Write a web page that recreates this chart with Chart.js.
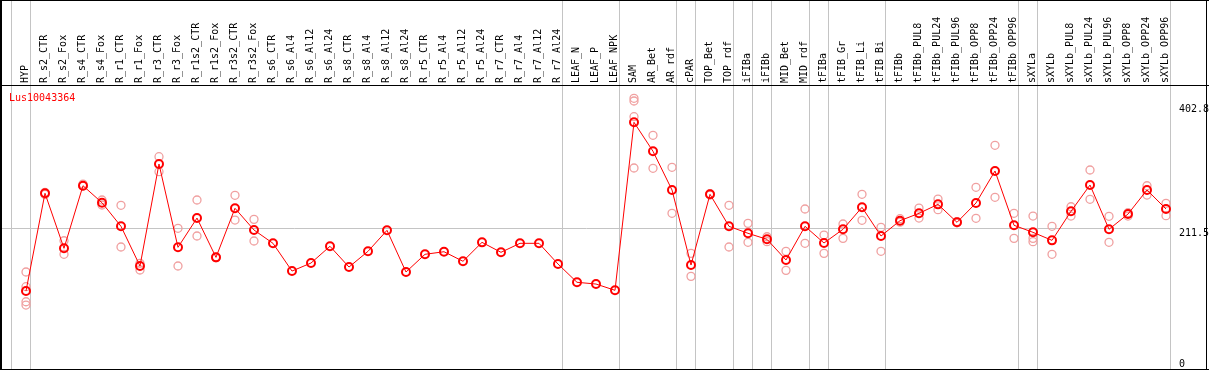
<!DOCTYPE html>
<html>
<head>
<meta charset="utf-8">
<script src="https://cdn.jsdelivr.net/npm/chart.js@4.4.0/dist/chart.umd.min.js"></script>
<style>
  html, body { margin: 0; padding: 0; background: #fff; }
  canvas { display: block; }
</style>
</head>
<body>
<canvas id="chart" width="1209" height="370"></canvas>
<script>
const geneName = 'Lus10043364';

const categories = [
    'HYP', 'R_s2_CTR', 'R_s2_Fox', 'R_s4_CTR', 'R_s4_Fox', 'R_r1_CTR', 'R_r1_Fox', 'R_r3_CTR', 'R_r3_Fox',
    'R_r1s2_CTR', 'R_r1s2_Fox', 'R_r3s2_CTR', 'R_r3s2_Fox', 'R_s6_CTR', 'R_s6_Al4', 'R_s6_Al12', 'R_s6_Al24',
    'R_s8_CTR', 'R_s8_Al4', 'R_s8_Al12', 'R_s8_Al24', 'R_r5_CTR', 'R_r5_Al4', 'R_r5_Al12', 'R_r5_Al24',
    'R_r7_CTR', 'R_r7_Al4', 'R_r7_Al12', 'R_r7_Al24', 'LEAF_N', 'LEAF_P', 'LEAF_NPK', 'SAM', 'AR_Bet', 'AR_rdf',
    'cPAR', 'TOP_Bet', 'TOP_rdf', 'iFIBa', 'iFIBb', 'MID_Bet', 'MID_rdf', 'tFIBa', 'tFIB_Gr', 'tFIB_Li', 'tFIB_Bi',
    'tFIBb', 'tFIBb_PUL8', 'tFIBb_PUL24', 'tFIBb_PUL96', 'tFIBb_OPP8', 'tFIBb_OPP24', 'tFIBb_OPP96',
    'sXYLa', 'sXYLb', 'sXYLb_PUL8', 'sXYLb_PUL24', 'sXYLb_PUL96', 'sXYLb_OPP8', 'sXYLb_OPP24', 'sXYLb_OPP96'
];

// mean expression per sample
const meanValues = [
    114.5, 265.7, 180.6, 277.4, 251.1, 214.6, 153.2, 311.0, 182.1, 227.4, 166.6, 242.5, 208.9,
    188.3, 145.4, 157.8, 183.7, 151.6, 175.9, 208.4, 143.9, 171.3, 175.3, 160.5, 189.8,
    174.4, 188.3, 188.3, 156.3, 128.0, 125.3, 115.6, 375.5, 330.7, 270.8, 154.7, 264.1, 214.6,
    203.8, 194.5, 162.5, 214.6, 188.8, 210.0, 244.0, 199.6, 223.3, 234.7, 248.6, 220.8, 250.7,
    300.2, 216.2, 205.3, 192.9, 237.8, 278.5, 210.0, 233.6, 270.8, 241.4
];

// individual replicates per sample (same order as categories)
const replicateValues = [
    [143.9, 121.2, 97.9, 92.8], [267, 264], [192.3, 171.3], [280, 277], [255.3, 247.6],
    [247.1, 182.6], [157.4, 147.0], [322.3, 299.1], [211.5, 153.2], [255.3, 199.6], [167, 166],
    [262.6, 224.3], [225.4, 191.9],
    [], [], [], [], [], [], [], [], [], [], [], [], [], [], [], [],
    [], [], [],
    [412.7, 408.5, 384.2, 304.8], [355.4, 304.4], [305.9, 234.7], [172.8, 137.2], [265, 263],
    [247.1, 182.6], [219.2, 189.9], [198.5, 190.8], [175.9, 146.5], [241.4, 188.3], [201.1, 172.8],
    [218.2, 196.0], [264.1, 223.9], [213.1, 175.9], [226.4, 221], [242.9, 227.4], [256.8, 240.3],
    [222, 220], [275.0, 227.0], [339.9, 259.5], [234.7, 196.0], [230.5, 196.0, 190.8],
    [214.6, 171.3], [244.9, 230.5], [301.7, 256.4], [230.1, 189.9], [235.7, 230.5],
    [277.4, 263.0], [250.2, 231.0]
];

// last sample index of each group, a separator follows it
const groupEnds = [-1, 0, 28, 31, 34, 35, 37, 38, 39, 41, 42, 45, 52, 53, 60];

const yTickValues = [0, 211.5, 402.8];
const yGridValue = 211.5;

const monoFont = '10px "DejaVu Sans Mono"';

const meanPoints = meanValues.map((v, i) => ({ x: i, y: v }));
const repPoints = [];
replicateValues.forEach((reps, i) => {
    reps.forEach(v => repPoints.push({ x: i, y: v }));
});

const framePlugin = {
    id: 'frame',
    beforeDraw(chart) {
        const ctx = chart.ctx;
        ctx.save();
        ctx.fillStyle = '#fff';
        ctx.fillRect(0, 0, chart.width, chart.height);
        ctx.restore();
    },
    beforeDatasetsDraw(chart) {
        const { ctx, scales: { x } } = chart;
        ctx.save();
        ctx.strokeStyle = '#c4c4c4';
        ctx.lineWidth = 1;
        groupEnds.forEach(b => {
            const px = Math.floor(x.getPixelForValue(b + 0.25)) + 0.5;
            ctx.beginPath();
            ctx.moveTo(px, 0);
            ctx.lineTo(px, chart.height);
            ctx.stroke();
        });
        ctx.restore();
    },
    afterDraw(chart) {
        const { ctx, chartArea, scales: { y } } = chart;
        ctx.save();
        ctx.font = monoFont;
        ctx.textAlign = 'left';
        ctx.textBaseline = 'alphabetic';

        // right hand value labels
        ctx.fillStyle = '#000';
        yTickValues.forEach(v => {
            const py = Math.min(y.getPixelForValue(v) + 7.5, chartArea.bottom - 1);
            ctx.fillText(String(v), chartArea.right + 8, py);
        });

        // gene name
        ctx.fillStyle = '#ff0000';
        ctx.fillText(geneName, 9, chartArea.top + 15);

        // black frame
        ctx.fillStyle = '#000';
        ctx.fillRect(0, 0, chart.width, 1);
        ctx.fillRect(0, chartArea.top - 1, chart.width, 1);
        ctx.fillRect(0, 0, 2, chart.height);
        ctx.fillRect(chart.width - 3, 0, 1, chart.height);
        ctx.fillRect(0, chart.height - 1, chart.width, 1);
        ctx.restore();
    }
};

new Chart(document.getElementById('chart'), {
    type: 'line',
    data: {
        datasets: [
            {
                label: geneName,
                data: meanPoints,
                borderColor: '#ff0000',
                borderWidth: 1,
                tension: 0,
                pointRadius: 4,
                pointBorderWidth: 2,
                pointBorderColor: '#ff0000',
                pointBackgroundColor: 'rgba(0,0,0,0)',
                order: 0
            },
            {
                type: 'scatter',
                label: 'replicates',
                data: repPoints,
                showLine: false,
                pointRadius: 4,
                pointBorderWidth: 1.3,
                pointBorderColor: '#f0a0a0',
                pointBackgroundColor: 'rgba(0,0,0,0)',
                order: 1
            }
        ]
    },
    options: {
        responsive: false,
        animation: false,
        devicePixelRatio: 1,
        layout: { autoPadding: false, padding: { left: 2, right: 0, top: 0, bottom: 2 } },
        plugins: {
            legend: { display: false },
            tooltip: { enabled: false }
        },
        scales: {
            x: {
                type: 'linear',
                position: 'top',
                min: -1.263,
                max: 60.263,
                afterFit: s => {
                    s.height = 86;
                    s.paddingLeft = 0;
                    s.paddingRight = 0;
                },
                grid: { display: false, drawTicks: false },
                border: { display: false },
                ticks: {
                    stepSize: 1,
                    autoSkip: false,
                    maxTicksLimit: 200,
                    includeBounds: false,
                    minRotation: 90,
                    maxRotation: 90,
                    padding: 3,
                    labelOffset: 11,
                    color: '#000',
                    font: { family: 'DejaVu Sans Mono', size: 10 },
                    callback: v => categories[v] ?? ''
                }
            },
            y: {
                type: 'linear',
                position: 'right',
                min: -4.6,
                max: 431.7,
                afterFit: s => {
                    s.width = 38;
                    s.paddingTop = 0;
                    s.paddingBottom = 0;
                },
                afterBuildTicks: s => { s.ticks = yTickValues.map(v => ({ value: v })); },
                grid: {
                    drawTicks: false,
                    color: c => (c.tick && c.tick.value === yGridValue) ? '#c4c4c4' : 'rgba(0,0,0,0)'
                },
                border: { display: false },
                ticks: { display: false }
            }
        }
    },
    plugins: [framePlugin]
});
</script>
</body>
</html>
